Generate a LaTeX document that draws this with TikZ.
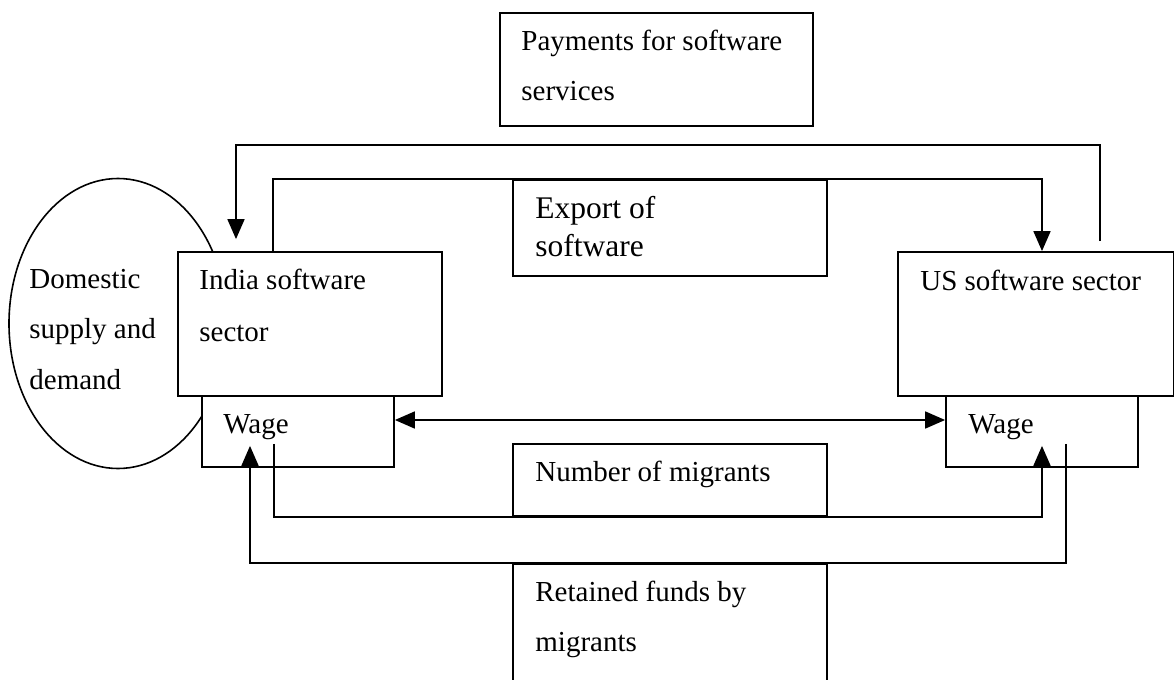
\documentclass[tikz,border=0pt]{standalone}
\usepackage{fontspec}
\setmainfont{Liberation Serif}
\usetikzlibrary{arrows.meta,calc,shapes.geometric}

\tikzset{
  box/.style={draw, fill=white, rectangle, line width=0.9pt, inner sep=0pt},
  txt/.style={anchor=base west, inner sep=0pt, font=\fontsize{14.5}{17}\selectfont},
  bigtxt/.style={txt, font=\fontsize{15.75}{19}\selectfont},
  flow/.style={line width=0.9pt, -{Triangle[length=10pt,width=8.5pt]}},
  flowboth/.style={line width=0.9pt, {Triangle[length=10pt,width=8.5pt]}-{Triangle[length=10pt,width=8.5pt]}}
}

\begin{document}
\begin{tikzpicture}[x=0.5pt, y=-0.5pt]
\useasboundingbox (0,0) rectangle (1175,680);
\clip (0,0) rectangle (1175,680);

% domestic market, partly hidden behind the sector boxes
\node[draw, ellipse, line width=0.8pt, minimum width=109pt, minimum height=145pt, inner sep=0pt] (dom) at (118,323.5) {};

% boxes
\node[box, minimum width=156.5pt, minimum height=56.5pt] (pay) at (656.5,69.5) {};
\node[box, minimum width=157pt, minimum height=48pt] (export) at (670,228) {};
\node[box, minimum width=132pt, minimum height=72pt] (india) at (310,324) {};
\node[box, minimum width=137.75pt, minimum height=72pt] (us) at (1035.75,324) {};
\node[box, minimum width=96pt, minimum height=35.5pt] (iwage) at (298,431.5) {};
\node[box, minimum width=96pt, minimum height=35.5pt] (uwage) at (1042,431.5) {};
\node[box, minimum width=157pt, minimum height=36pt] (num) at (670,480) {};
\node[box, minimum width=157pt, minimum height=68pt] (ret) at (670,632) {};

% labels
\node[txt] (payA) at (521,50) {Payments for software};
\node[txt] (payB) at (521,100) {services};
\node[bigtxt] (expA) at (535,218) {Export of};
\node[bigtxt] (expB) at (535,256) {software};
\node[txt] (domA) at (29,288) {Domestic};
\node[txt] (domB) at (29,338) {supply and};
\node[txt] (domC) at (29,389) {demand};
\node[txt] (indA) at (199,289) {India software};
\node[txt] (indB) at (199,341) {sector};
\node[txt] (usA) at (920,290) {US software sector};
\node[txt] (iwA) at (223,433) {Wage};
\node[txt] (uwA) at (968,433) {Wage};
\node[txt] (numA) at (535,481) {Number of migrants};
\node[txt] (retA) at (535,601) {Retained funds by};
\node[txt] (retB) at (535,651) {migrants};

% payments for software services: US -> India
\draw[flow] ($(us.north -| 1100,0)+(0,-10)$) -- (1100,145) -| ($(india.north -| 236,0)+(0,-12)$);

% export of software: India -> US
\draw[flow] (india.north -| 273,0) |- (export.north) -| (us.north -| 1042,0);

% wage comparison
\draw[flowboth] (iwage.east |- 0,420) -- (uwage.west |- 0,420);

% number of migrants: India wage -> US wage
\draw[flow] ($(iwage.south)+(-24,-24)$) |- (num.south) -| ($(uwage.south)+(0,-22)$);

% retained funds by migrants: US wage -> India wage
\draw[flow] ($(uwage.south)+(24,-24)$) |- (ret.north) -| ($(iwage.south)+(-48,-22)$);
\end{tikzpicture}
\end{document}
